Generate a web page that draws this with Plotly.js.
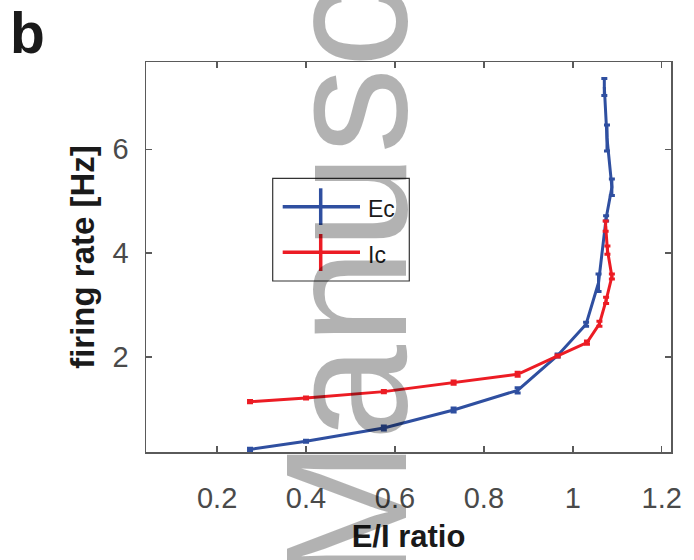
<!DOCTYPE html>
<html>
<head>
<meta charset="utf-8">
<script src="https://cdn.plot.ly/plotly-3.0.1.min.js"></script>
<style>
  html, body { margin: 0; padding: 0; background: #ffffff; }
  #chart { width: 694px; height: 560px; }
</style>
</head>
<body>
<div id="chart"></div>
<script>
// ---- data ----
const ecRatio = [0.274, 0.400, 0.575, 0.732, 0.876, 0.966, 1.030, 1.058, 1.075, 1.088, 1.077, 1.071];
const ecRate  = [0.22, 0.376, 0.632, 0.979, 1.358, 2.03, 2.63, 3.43, 4.67, 5.27, 6.22, 7.20];
const ecErr   = [0.02, 0.02, 0.04, 0.04, 0.05, 0.03, 0.04, 0.17, 0.05, 0.16, 0.25, 0.165];

const icRatio = [0.274, 0.400, 0.575, 0.732, 0.876, 0.966, 1.032, 1.060, 1.075, 1.088, 1.078, 1.074];
const icRate  = [1.14, 1.21, 1.333, 1.507, 1.667, 2.02, 2.277, 2.64, 3.09, 3.55, 4.06, 4.52];
const icErr   = [0.02, 0.02, 0.02, 0.03, 0.04, 0.02, 0.03, 0.05, 0.06, 0.05, 0.08, 0.10];

const seriesNames = ['Ec', 'Ic'];
const xTickVals = [0.2, 0.4, 0.6, 0.8, 1.0, 1.2];
const xTickText = ['0.2', '0.4', '0.6', '0.8', '1', '1.2'];
const yTickVals = [2, 4, 6];
const yTickText = ['2', '4', '6'];
const xTitle = 'E/I ratio';
const yTitle = 'firing rate [Hz]';
const panelLabel = 'b';
const watermark = 'Manuscript';

// ---- style ----
const BLUE = '#2f4fa0';
const RED = '#ec1c24';
const FONT = 'Liberation Sans, Arial, Helvetica, sans-serif';

// plot area in pixels
const W = 694, H = 560;
const L = 146, R = 671, T = 62, B = 452;
const px = x => (x - L) / (R - L);
const py = y => (B - y) / (B - T);

function trace(name, x, y, err, color) {
  return {
    type: 'scatter', mode: 'lines', name: name,
    x: x, y: y,
    line: { color: color, width: 3 },
    error_y: { type: 'data', array: err, visible: true, color: color, thickness: 3, width: 3 },
    showlegend: false, hoverinfo: 'x+y'
  };
}

const data = [
  trace(seriesNames[0], ecRatio, ecRate, ecErr, BLUE),
  trace(seriesNames[1], icRatio, icRate, icErr, RED)
];

const axisCommon = {
  showline: true, mirror: 'allticks', linecolor: '#5a5a5a', linewidth: 1.5,
  ticks: 'inside', ticklen: 6, tickwidth: 1.5, tickcolor: '#5a5a5a',
  showgrid: false, zeroline: false,
  tickfont: { family: FONT, size: 29, color: '#4a4a4a' }
};

const shapes = [
  // legend box
  { type: 'rect', xref: 'paper', yref: 'paper', x0: px(272.7), x1: px(409.3), y0: py(281), y1: py(178.3),
    line: { color: '#333333', width: 1.2 }, fillcolor: 'rgba(255,255,255,1)', layer: 'above' },
  { type: 'line', xref: 'paper', yref: 'paper', x0: px(282.7), x1: px(360), y0: py(206.7), y1: py(206.7),
    line: { color: BLUE, width: 3.5 }, layer: 'above' },
  { type: 'line', xref: 'paper', yref: 'paper', x0: px(320.7), x1: px(320.7), y0: py(188.3), y1: py(225),
    line: { color: BLUE, width: 3.5 }, layer: 'above' },
  { type: 'line', xref: 'paper', yref: 'paper', x0: px(282.7), x1: px(360), y0: py(252.3), y1: py(252.3),
    line: { color: RED, width: 3.5 }, layer: 'above' },
  { type: 'line', xref: 'paper', yref: 'paper', x0: px(320.7), x1: px(320.7), y0: py(234), y1: py(271),
    line: { color: RED, width: 3.5 }, layer: 'above' }
];

const annotations = [
  { text: seriesNames[0], xref: 'paper', yref: 'paper', x: px(366), y: py(209), xanchor: 'left', yanchor: 'middle',
    showarrow: false, font: { family: FONT, size: 23, color: '#1a1a1a' } },
  { text: seriesNames[1], xref: 'paper', yref: 'paper', x: px(366), y: py(255), xanchor: 'left', yanchor: 'middle',
    showarrow: false, font: { family: FONT, size: 23, color: '#1a1a1a' } },
  { text: panelLabel, xref: 'paper', yref: 'paper', x: px(8), y: py(33), xanchor: 'left', yanchor: 'middle',
    showarrow: false, font: { family: FONT, size: 57, color: '#1a1a1a', weight: 'bold' } },
  { text: watermark, xref: 'paper', yref: 'paper', x: px(346), y: py(164), xanchor: 'center', yanchor: 'middle',
    textangle: -90, showarrow: false, font: { family: FONT, size: 172, color: 'rgba(0,0,0,0.3)' } }
];

const layout = {
  width: W, height: H,
  margin: { l: L, r: W - R, t: T, b: H - B, pad: 0 },
  paper_bgcolor: '#ffffff', plot_bgcolor: '#ffffff',
  showlegend: false,
  xaxis: Object.assign({}, axisCommon, {
    range: [0.040, 1.221], tickvals: xTickVals, ticktext: xTickText,
    ticklabelstandoff: 20,
    title: { text: xTitle, standoff: 12, font: { family: FONT, size: 31, color: '#1a1a1a', weight: 'bold' } }
  }),
  yaxis: Object.assign({}, axisCommon, {
    range: [0.170, 7.682], tickvals: yTickVals, ticktext: yTickText,
    ticklabelstandoff: 10,
    title: { text: yTitle, standoff: 8, font: { family: FONT, size: 33, color: '#1a1a1a', weight: 'bold' } }
  }),
  shapes: shapes,
  annotations: annotations
};

Plotly.newPlot('chart', data, layout, { staticPlot: true, displayModeBar: false });
</script>
</body>
</html>
